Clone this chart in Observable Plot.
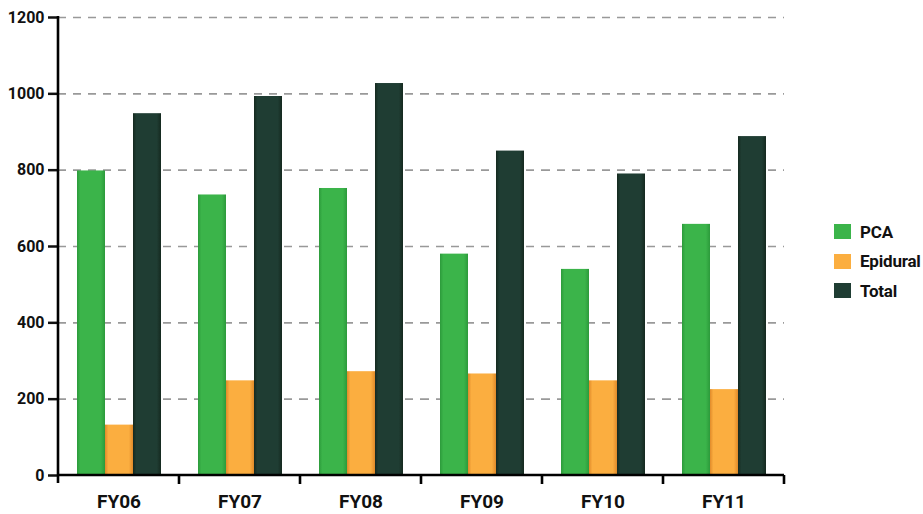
<!DOCTYPE html>
<html>
<head>
<meta charset="utf-8">
<script src="https://cdn.jsdelivr.net/npm/d3@7"></script>
<script src="https://cdn.jsdelivr.net/npm/@observablehq/plot@0.6"></script>
<style>
  html, body { margin: 0; padding: 0; background: #fff; }
  #wrap { position: relative; width: 923px; height: 514px; font-family: Roboto, "Liberation Sans", sans-serif; font-weight: bold; }
  #legend { position: absolute; left: 834px; top: 217px; font-size: 17px; color: #111; letter-spacing: -0.2px; }
  .item { display: flex; align-items: center; height: 29.5px; }
  .sw { width: 17px; height: 15px; margin-right: 9px; }
</style>
</head>
<body>
<div id="wrap"><div id="chart"></div><div id="legend"></div></div>
<script>
const years = ["FY06", "FY07", "FY08", "FY09", "FY10", "FY11"];
const seriesNames = ["PCA", "Epidural", "Total"];
const pca = [798, 735, 752, 580, 540, 658];
const epidural = [132, 248, 272, 266, 248, 225];
const total = [948, 993, 1027, 850, 790, 888];
const yTicks = [0, 200, 400, 600, 800, 1000, 1200];
const colors = ["#3bb44a", "#fbae40", "#1f3d33"];
const edgeColors = ["#2c9a3b", "#e08a2a", "#15291f"];

const data = [];
years.forEach((yr, i) => {
  data.push({year: yr, series: "PCA", value: pca[i]});
  data.push({year: yr, series: "Epidural", value: epidural[i]});
  data.push({year: yr, series: "Total", value: total[i]});
});

const plot = Plot.plot({
  width: 923,
  height: 514,
  marginTop: 17,
  marginBottom: 39,
  marginLeft: 58,
  marginRight: 139,
  style: {fontFamily: 'Roboto, "Liberation Sans", sans-serif', fontWeight: "bold", background: "transparent"},
  fx: {domain: years, padding: 0, label: null},
  x: {domain: seriesNames, paddingInner: 0, paddingOuter: 0.66, axis: null},
  y: {domain: [0, 1200], label: null},
  marks: [
    Plot.gridY(yTicks.filter(d => d > 0), {stroke: "#999", strokeOpacity: 1, strokeWidth: 1.6, strokeDasharray: "8,7"}),
    Plot.barY(data, {fx: "year", x: "series", y: "value", fill: d => `url(#grad${seriesNames.indexOf(d.series)})`}),
    Plot.axisY(yTicks, {tickSize: 10, tickPadding: 4, fontSize: 16, fill: "#111", stroke: "#111", strokeWidth: 2.5, tickFormat: d3.format("d")}),
    Plot.axisFx({anchor: "bottom", tickSize: 0, tickPadding: 19, fontSize: 19, fill: "#111", label: null})
  ]
});

// gradients for shaded bars
const svg = d3.select(plot);
const defs = svg.insert("defs", ":first-child");
colors.forEach((c, i) => {
  const g = defs.append("linearGradient").attr("id", `grad${i}`).attr("x1", 0).attr("x2", 1).attr("y1", 0).attr("y2", 0);
  g.append("stop").attr("offset", "0%").attr("stop-color", edgeColors[i]);
  g.append("stop").attr("offset", "12%").attr("stop-color", c);
  g.append("stop").attr("offset", "85%").attr("stop-color", c);
  g.append("stop").attr("offset", "100%").attr("stop-color", edgeColors[i]);
});

// axis lines and boundary ticks from the library's scales
const fx = plot.scale("fx");
const ys = plot.scale("y");
const x0 = fx.apply(years[0]);
const x1 = fx.apply(years[years.length - 1]) + fx.bandwidth;
const yBase = ys.apply(0);
const yTop = ys.apply(1200);
const g = svg.append("g").attr("stroke", "#000").attr("stroke-width", 2.6);
g.append("line").attr("x1", x0).attr("x2", x0).attr("y1", yTop - 1).attr("y2", yBase + 8);
g.append("line").attr("x1", x0).attr("x2", x1).attr("y1", yBase).attr("y2", yBase);
years.forEach(yr => {
  const xx = fx.apply(yr);
  if (yr !== years[0]) g.append("line").attr("x1", xx).attr("x2", xx).attr("y1", yBase).attr("y2", yBase + 9);
});
g.append("line").attr("x1", x1).attr("x2", x1).attr("y1", yBase).attr("y2", yBase + 9);

document.getElementById("chart").appendChild(plot);

const legend = d3.select("#legend");
seriesNames.forEach((s, i) => {
  const it = legend.append("div").attr("class", "item");
  it.append("div").attr("class", "sw").style("background", colors[i]);
  it.append("span").text(s);
});
</script>
</body>
</html>
